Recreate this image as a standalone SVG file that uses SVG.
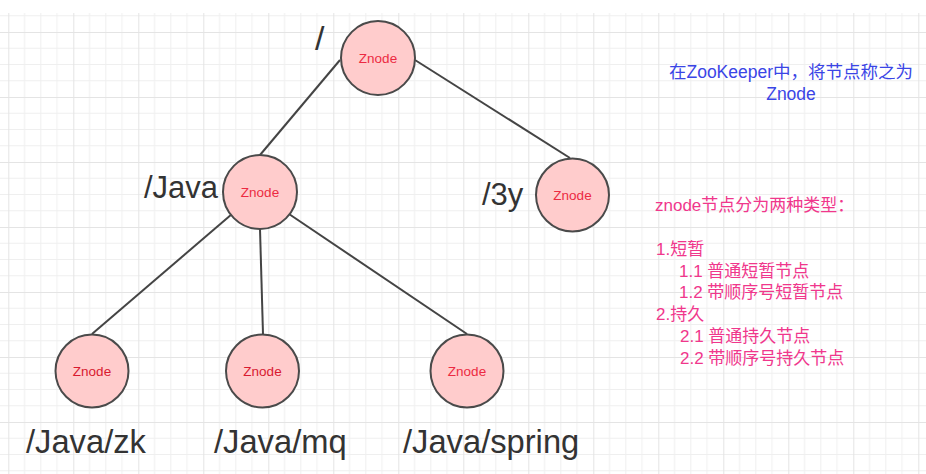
<svg xmlns="http://www.w3.org/2000/svg" width="926" height="474" viewBox="0 0 926 474">
<style>
.node circle{fill:#ffcccc;stroke:#4a4a4a;stroke-width:2}
.node text{font-family:"Liberation Sans",Arial,sans-serif;font-size:13.5px;fill:#ec2a42;text-anchor:middle}
.lbl{font-family:"Liberation Sans",Arial,sans-serif;fill:#333;}
#connectors line{stroke:#444;stroke-width:2;fill:none}
.blue{font-family:"Liberation Sans","Noto Sans CJK SC",sans-serif;font-size:17.5px;fill:#3a45e6;text-anchor:middle}
.pink{font-family:"Liberation Sans","Noto Sans CJK SC",sans-serif;font-size:17px;fill:#f0378c}
</style>
<defs>
<pattern id="grid" patternUnits="userSpaceOnUse" x="8.3" y="32" width="65" height="65">
<path d="M16.25 0V65M32.5 0V65M48.75 0V65M0 16.25H65M0 32.5H65M0 48.75H65" stroke="#efefef" stroke-width="1" fill="none"/>
<path d="M0.5 0V65M0 0.5H65" stroke="#e4e4e4" stroke-width="1" fill="none"/>
</pattern>
</defs>
<rect width="926" height="474" fill="#fff"/>
<rect y="13" width="926" height="461" fill="url(#grid)"/>
<g id="connectors">
<line x1="340" y1="60" x2="260" y2="155"/>
<line x1="415" y1="60" x2="570" y2="158"/>
<line x1="232" y1="214" x2="92" y2="334"/>
<line x1="260" y1="229" x2="263" y2="334"/>
<line x1="289" y1="214" x2="467" y2="334"/>
</g>
<g id="node-root" class="node"><circle cx="378" cy="58" r="37"/><text x="378" y="63">Znode</text></g>
<g id="node-java" class="node"><circle cx="260" cy="192" r="37"/><text x="260" y="197">Znode</text></g>
<g id="node-3y" class="node"><circle cx="572.5" cy="195" r="36.5"/><text x="572.5" y="200">Znode</text></g>
<g id="node-zk" class="node"><circle cx="92" cy="371" r="36.5"/><text x="92" y="376" style="fill:#d81a30">Znode</text></g>
<g id="node-mq" class="node"><circle cx="262.5" cy="371" r="36.5"/><text x="262.5" y="376" style="fill:#d81a30">Znode</text></g>
<g id="node-spring" class="node"><circle cx="467" cy="371" r="36.5"/><text x="467" y="376">Znode</text></g>
<g id="labels">
<text class="lbl" x="315" y="50" font-size="34">/</text>
<text class="lbl" x="144" y="198" font-size="31">/Java</text>
<text class="lbl" x="482" y="205" font-size="31">/3y</text>
<text class="lbl" x="26" y="453" font-size="32.7">/Java/zk</text>
<text class="lbl" x="214" y="453" font-size="32.7">/Java/mq</text>
<text class="lbl" x="403" y="453" font-size="32.7">/Java/spring</text>
</g>
<g id="notes">
<text class="blue" x="791" y="78">在ZooKeeper中，将节点称之为</text>
<text class="blue" x="791" y="100">Znode</text>
<text class="pink" x="655" y="211">znode节点分为两种类型：</text>
<text class="pink" x="656" y="254.5">1.短暂</text>
<text class="pink" x="679" y="276.5">1.1 普通短暂节点</text>
<text class="pink" x="679" y="298">1.2 带顺序号短暂节点</text>
<text class="pink" x="656" y="320">2.持久</text>
<text class="pink" x="680" y="342">2.1 普通持久节点</text>
<text class="pink" x="680" y="363.5">2.2 带顺序号持久节点</text>
</g>
</svg>
